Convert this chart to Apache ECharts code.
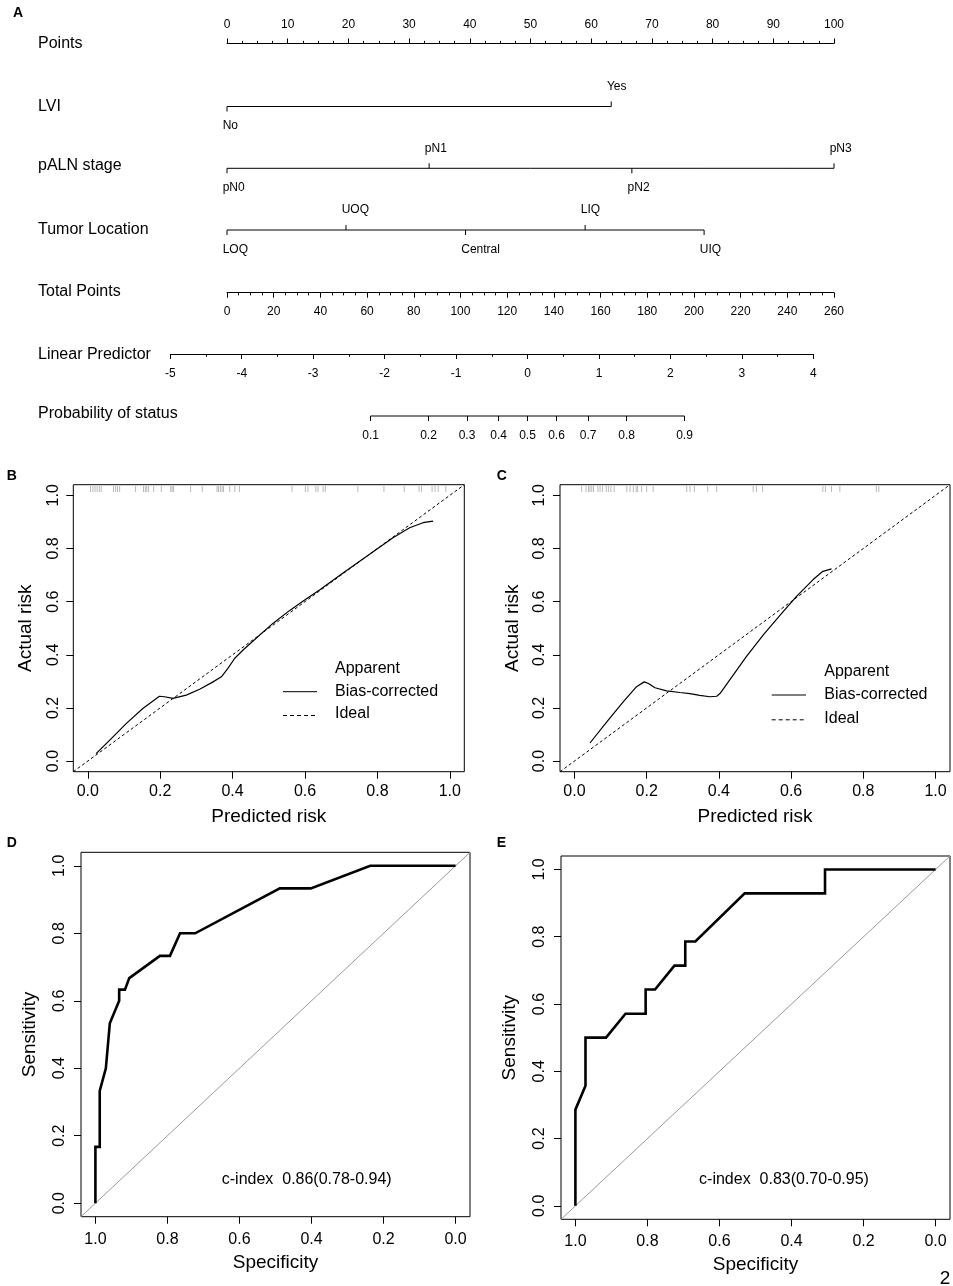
<!DOCTYPE html>
<html><head><meta charset="utf-8">
<script src="https://cdn.jsdelivr.net/npm/echarts@6/dist/echarts.min.js"></script>
<style>html,body{margin:0;padding:0;background:#fff}#c{width:953px;height:1286px}</style>
</head><body><div id="c"></div>
<script>
// ================= DATA =================
// Nomogram (panel A)
const rowNames = ['Points', 'LVI', 'pALN stage', 'Tumor Location', 'Total Points', 'Linear Predictor', 'Probability of status'];
const pointsRange = [0, 100];
const totalPointsRange = [0, 260];
const linearPredictorRange = [-5, 4];
const lviLevels = ['No', 'Yes'];
const lviPoints = [0, 63.3];
const alnLevels = ['pN0', 'pN1', 'pN2', 'pN3'];
const alnPoints = [0, 33.3, 66.7, 100];
const locLevels = ['LOQ', 'UOQ', 'Central', 'LIQ', 'UIQ'];
const locPoints = [0, 19.6, 39.3, 59.0, 78.6];
const probTicks = [0.1, 0.2, 0.3, 0.4, 0.5, 0.6, 0.7, 0.8, 0.9];

// Calibration (panels B, C)
const calibTicks = [0, 0.2, 0.4, 0.6, 0.8, 1.0];
const calB_pred = [0.023, 0.060, 0.106, 0.152, 0.198, 0.212, 0.235, 0.272, 0.309, 0.346, 0.369, 0.387, 0.406, 0.429, 0.465, 0.512, 0.558, 0.594, 0.641, 0.705, 0.751, 0.797, 0.843, 0.889, 0.926, 0.954];
const calB_obs  = [0.028, 0.078, 0.141, 0.198, 0.244, 0.242, 0.236, 0.248, 0.270, 0.298, 0.317, 0.349, 0.387, 0.418, 0.462, 0.519, 0.567, 0.601, 0.645, 0.708, 0.752, 0.796, 0.840, 0.878, 0.897, 0.903];
const rugB = [0.0075, 0.014, 0.020, 0.026, 0.032, 0.037, 0.071, 0.077, 0.082, 0.088, 0.132, 0.154, 0.159, 0.163, 0.168, 0.182, 0.203, 0.229, 0.233, 0.237, 0.284, 0.316, 0.357, 0.361, 0.366, 0.371, 0.375, 0.392, 0.406, 0.419, 0.564, 0.601, 0.608, 0.630, 0.636, 0.650, 0.656, 0.746, 0.818, 0.874, 0.915, 0.922, 0.951, 0.959, 0.968, 0.989];
const calC_pred = [0.043, 0.089, 0.135, 0.172, 0.193, 0.205, 0.223, 0.255, 0.292, 0.320, 0.347, 0.375, 0.394, 0.403, 0.440, 0.476, 0.523, 0.569, 0.615, 0.661, 0.688, 0.712];
const calC_obs  = [0.068, 0.147, 0.223, 0.280, 0.298, 0.292, 0.276, 0.264, 0.258, 0.254, 0.247, 0.242, 0.244, 0.254, 0.324, 0.393, 0.475, 0.548, 0.620, 0.683, 0.714, 0.723];
const rugC = [0.020, 0.032, 0.039, 0.043, 0.048, 0.053, 0.065, 0.071, 0.078, 0.088, 0.094, 0.101, 0.110, 0.145, 0.154, 0.163, 0.171, 0.175, 0.186, 0.200, 0.218, 0.311, 0.320, 0.332, 0.369, 0.394, 0.495, 0.504, 0.521, 0.688, 0.695, 0.712, 0.735, 0.836, 0.843];
const legendNames = ['Apparent', 'Bias-corrected', 'Ideal'];

// ROC (panels D, E)
const rocD_spec = [1.0, 1.0, 0.988, 0.988, 0.971, 0.960, 0.934, 0.934, 0.918, 0.906, 0.821, 0.793, 0.765, 0.723, 0.488, 0.402, 0.237, 0.0];
const rocD_sens = [0.0, 0.167, 0.167, 0.333, 0.400, 0.533, 0.600, 0.633, 0.633, 0.667, 0.733, 0.733, 0.800, 0.800, 0.933, 0.933, 1.0, 1.0];
const rocE_spec = [1.0, 1.0, 0.972, 0.972, 0.915, 0.861, 0.805, 0.805, 0.779, 0.725, 0.695, 0.695, 0.667, 0.530, 0.307, 0.307, 0.0];
const rocE_sens = [0.0, 0.286, 0.357, 0.500, 0.500, 0.571, 0.571, 0.643, 0.643, 0.714, 0.714, 0.786, 0.786, 0.929, 0.929, 1.0, 1.0];
const cindexD = 'c-index  0.86(0.78-0.94)';
const cindexE = 'c-index  0.83(0.70-0.95)';
const panelLetters = ['A', 'B', 'C', 'D', 'E'];
const pageNumber = '2';

// ================= HELPERS =================
const FONT = '"Liberation Sans", Arial, Helvetica, sans-serif';
const BLACK = '#000';
const logit = p => Math.log(p / (1 - p));
const zip = (a, b) => a.map((v, i) => [v, b[i]]);
const EXT = [-0.04, 1.04]; // R-style 4% extension of [0,1]

const chart = echarts.init(document.getElementById('c'), null, {renderer: 'canvas', width: 953, height: 1286});

// layout (pixels)
const NOMO_L = 227, NOMO_W = 607;
const LP_L = 170.3, LP_W = 643;
const rowY = [44, 107, 166, 230, 292, 354.5, 414];
const catRowY = {lvi: 106.5, aln: 168.3, loc: 230};

function numAxis(grid, pos, min, max, interval, minorSplit, margin, extra) {
  return Object.assign({
    gridIndex: grid, type: 'value', position: pos, min, max, interval,
    axisLine: {show: true, onZero: false, lineStyle: {color: BLACK, width: 1}},
    axisTick: {show: true, length: 5, lineStyle: {color: BLACK, width: 1}},
    minorTick: {show: minorSplit > 1, splitNumber: minorSplit, length: 2.7, lineStyle: {color: BLACK, width: 1}},
    splitLine: {show: false}, minorSplitLine: {show: false},
    axisLabel: {show: true, fontSize: 12, color: BLACK, fontFamily: FONT, margin, showMinLabel: true, showMaxLabel: true}
  }, extra || {});
}
function hiddenY(grid, min, max, inverse) {
  return {gridIndex: grid, type: 'value', show: false, min, max, inverse: !!inverse, splitLine: {show: false}, axisLine: {onZero: false}};
}
function calAxis(grid, dim, name, inverse, nameGap, labelMargin) {
  const ax = {
    gridIndex: grid, type: 'value', min: EXT[0], max: EXT[1], inverse: !!inverse,
    position: dim === 'y' ? 'left' : 'bottom',
    name, nameLocation: 'middle', nameGap,
    nameTextStyle: {fontSize: 19, color: BLACK, fontFamily: FONT},
    axisLine: {show: false, onZero: false}, splitLine: {show: false},
    axisTick: {show: true, length: 7, customValues: calibTicks, lineStyle: {color: BLACK, width: 1}},
    axisLabel: {show: true, customValues: calibTicks, formatter: v => (+v).toFixed(1), fontSize: 16, color: BLACK, fontFamily: FONT, margin: labelMargin}
  };
  if (dim === 'y') { ax.axisLabel.rotate = 90; ax.nameRotate = 90; }
  return ax;
}

// categorical level ticks + labels
function levelSeries(names, pts, yRow) {
  return {
    type: 'custom', xAxisIndex: 1, yAxisIndex: 1, silent: true,
    data: pts.map((p, i) => [p, yRow, i]),
    renderItem: function (params, api) {
      const c = api.coord([api.value(0), api.value(1)]);
      const idx = api.value(2);
      const up = idx % 2 === 1;
      return {
        type: 'group', children: [
          {type: 'line', shape: {x1: c[0], y1: c[1], x2: c[0], y2: c[1] + (up ? -5 : 5)}, style: {stroke: BLACK, lineWidth: 1}},
          {type: 'text', style: {text: names[idx], x: c[0] - 4.3, y: c[1] + (up ? -20 : 19.5), fill: BLACK, fontSize: 12, fontFamily: FONT, align: 'left', verticalAlign: 'middle'}}
        ]
      };
    }
  };
}
function rowLine(pts, yRow) {
  return {type: 'line', xAxisIndex: 1, yAxisIndex: 1, silent: true, showSymbol: false, symbol: 'none',
    data: [[Math.min(...pts), yRow], [Math.max(...pts), yRow]], lineStyle: {color: BLACK, width: 1}, clip: false};
}

const probVals = probTicks.map(logit);

const grids = [
  {left: NOMO_L, width: NOMO_W, top: 43.5, height: 20},          // 0 Points
  {left: NOMO_L, width: NOMO_W, top: 0, height: 460},            // 1 categorical rows
  {left: NOMO_L, width: NOMO_W, top: 272.7, height: 20},         // 2 Total points
  {left: LP_L, width: LP_W, top: 334, height: 20},               // 3 Linear predictor
  {left: LP_L, width: LP_W, top: 396, height: 20},               // 4 Probability
  {left: 73.3, width: 391, top: 484.7, height: 287},              // 5 B
  {left: 560, width: 390, top: 484.7, height: 287},               // 6 C
  {left: 81, width: 389, top: 852.3, height: 364.4},              // 7 D
  {left: 561, width: 389, top: 856, height: 363.3}                // 8 E
].map((g, i) => Object.assign(g, i >= 5 ? {show: true, borderColor: BLACK, borderWidth: 1, backgroundColor: 'transparent'} : {show: false}));

const xAxes = [
  numAxis(0, 'top', pointsRange[0], pointsRange[1], 10, 4, 13),
  {gridIndex: 1, type: 'value', show: false, min: pointsRange[0], max: pointsRange[1], splitLine: {show: false}, axisLine: {onZero: false}},
  numAxis(2, 'bottom', totalPointsRange[0], totalPointsRange[1], 20, 4, 13),
  numAxis(3, 'bottom', linearPredictorRange[0], linearPredictorRange[1], 1, 2, 14),
  numAxis(4, 'bottom', linearPredictorRange[0], linearPredictorRange[1], 1, 0, 13.5, {
    axisLine: {show: false, onZero: false},
    axisTick: {show: true, length: 5, customValues: probVals, lineStyle: {color: BLACK, width: 1}},
    minorTick: {show: false},
    axisLabel: {show: true, customValues: probVals, fontSize: 12, color: BLACK, fontFamily: FONT, margin: 13.5,
      formatter: v => (1 / (1 + Math.exp(-v))).toFixed(1)}
  }),
  calAxis(5, 'x', 'Predicted risk', false, 36, 12),
  calAxis(6, 'x', 'Predicted risk', false, 36, 12),
  calAxis(7, 'x', 'Specificity', true, 37, 15),
  calAxis(8, 'x', 'Specificity', true, 36, 14)
];
const yAxes = [
  hiddenY(0, 0, 1), hiddenY(1, 0, 460, true), hiddenY(2, 0, 1), hiddenY(3, 0, 1), hiddenY(4, 0, 1),
  calAxis(5, 'y', 'Actual risk', false, 38, 12),
  calAxis(6, 'y', 'Actual risk', false, 38, 12),
  calAxis(7, 'y', 'Sensitivity', false, 42, 13),
  calAxis(8, 'y', 'Sensitivity', false, 42, 13)
];

function rugSeries(ax, vals) {
  return {type: 'scatter', xAxisIndex: ax, yAxisIndex: ax, silent: true, symbol: 'rect', symbolSize: [1, 6],
    itemStyle: {color: 'rgba(0,0,0,0.35)'}, data: vals.map(v => [v, 1.024])};
}
function calCurve(ax, pred, obs) {
  return {name: 'Bias-corrected', type: 'line', xAxisIndex: ax, yAxisIndex: ax, silent: true, symbol: 'none', smooth: false,
    data: zip(pred, obs), lineStyle: {color: BLACK, width: 1.2}};
}
function idealLine(ax) {
  return {name: 'Ideal', type: 'line', xAxisIndex: ax, yAxisIndex: ax, silent: true, symbol: 'none',
    data: [[EXT[0], EXT[0]], [EXT[1], EXT[1]]], lineStyle: {color: BLACK, width: 1, type: [3, 2.5]}};
}
function diagLine(ax) {
  return {type: 'line', xAxisIndex: ax, yAxisIndex: ax, silent: true, symbol: 'none',
    data: [[EXT[1], 1 - EXT[1]], [EXT[0], 1 - EXT[0]]], lineStyle: {color: '#999', width: 1}};
}
function rocLine(ax, spec, sens) {
  return {type: 'line', xAxisIndex: ax, yAxisIndex: ax, silent: true, symbol: 'none',
    data: zip(spec, sens), lineStyle: {color: BLACK, width: 2.6, join: 'miter'}};
}

const series = [
  rowLine(lviPoints, catRowY.lvi), levelSeries(lviLevels, lviPoints, catRowY.lvi),
  rowLine(alnPoints, catRowY.aln), levelSeries(alnLevels, alnPoints, catRowY.aln),
  rowLine(locPoints, catRowY.loc), levelSeries(locLevels, locPoints, catRowY.loc),
  {type: 'line', xAxisIndex: 4, yAxisIndex: 4, silent: true, symbol: 'none', clip: false,
    data: [[probVals[0], 0], [probVals[probVals.length - 1], 0]], lineStyle: {color: BLACK, width: 1}},
  rugSeries(5, rugB), idealLine(5), calCurve(5, calB_pred, calB_obs),
  rugSeries(6, rugC), idealLine(6), calCurve(6, calC_pred, calC_obs),
  diagLine(7), rocLine(7, rocD_spec, rocD_sens),
  diagLine(8), rocLine(8, rocE_spec, rocE_sens)
];

// text / legend graphics
const txt = (text, x, y, size, opts) => Object.assign({type: 'text', x, y, silent: true,
  style: Object.assign({text, fill: BLACK, fontSize: size, fontFamily: FONT, align: 'left', verticalAlign: 'middle'}, opts || {})});
const seg = (x1, y1, x2, y2, dash) => ({type: 'line', silent: true, shape: {x1, y1, x2, y2},
  style: {stroke: BLACK, lineWidth: 1, lineDash: dash || null}});

const letterPos = [[13, 13.3], [6.7, 476], [496.7, 476], [6.7, 843], [496.7, 843]];
const graphics = [];
rowNames.forEach((n, i) => graphics.push(txt(n, 38, rowY[i], 16)));
panelLetters.forEach((l, i) => graphics.push(txt(l, letterPos[i][0], letterPos[i][1], 14, {fontWeight: 'bold'})));
// legends B & C
[[283, 317, 335, [668.3, 691.7, 714]], [771.7, 806, 824.3, [671.7, 695, 718.3]]].forEach(L => {
  legendNames.forEach((n, i) => graphics.push(txt(n, L[2], L[3][i], 16)));
  graphics.push(seg(L[0], L[3][1], L[1], L[3][1]));
  graphics.push(seg(L[0], L[3][2] + 1.5, L[1], L[3][2] + 1.5, [4, 3]));
});
graphics.push(txt(cindexD, 306.7, 1179.3, 16, {align: 'center'}));
graphics.push(txt(cindexE, 784, 1180, 16, {align: 'center'}));
graphics.push(txt(pageNumber, 945, 1279, 19, {align: 'center'}));

chart.setOption({
  animation: false,
  backgroundColor: '#fff',
  grid: grids,
  xAxis: xAxes,
  yAxis: yAxes,
  series,
  graphic: graphics
});
</script></body></html>
